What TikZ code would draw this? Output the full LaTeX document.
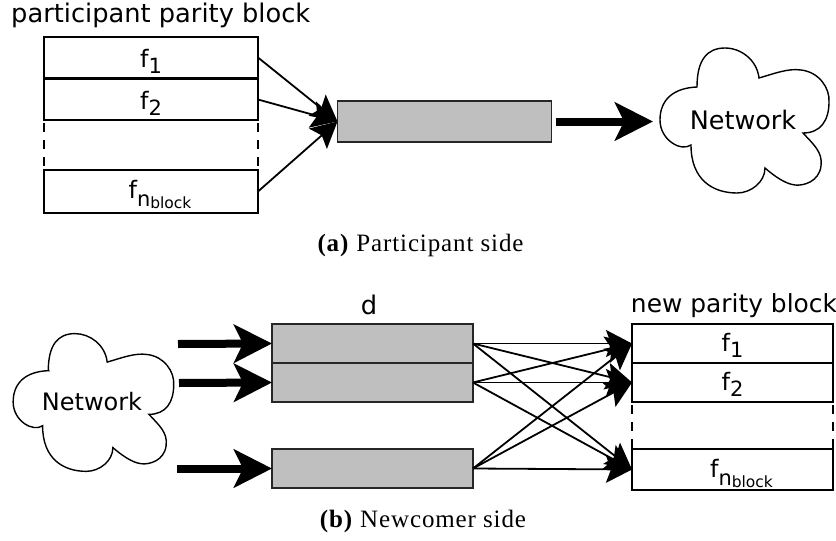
\documentclass[tikz,border=0pt]{standalone}
\usepackage{fontspec}
\setmainfont[LetterSpace=3.5]{Liberation Serif}
\newfontfamily\dejavu{DejaVu Sans}
\usetikzlibrary{arrows.meta}
\tikzstyle{bloc}   =[draw=black, line width=1.6pt, minimum width=214pt, inner sep=0pt, outer sep=0pt, text height=18pt, text depth=0pt, font=\dejavu\fontsize{24}{24}\selectfont]
\tikzstyle{blocgris}=[bloc, fill=black!25, draw=black!85]
\tikzstyle{titre}  =[inner sep=0pt, anchor=base west, font=\dejavu\fontsize{25.7}{25.7}\selectfont]
\tikzstyle{legende}=[inner sep=0pt, anchor=base, font=\fontsize{25}{25}\selectfont]
\tikzstyle{fin}    =[line width=1.8pt, -{Stealth[length=26pt,width=27pt,inset=5pt]}]
\tikzstyle{epais}  =[line width=8pt, line cap=butt, -{Stealth[length=38pt,width=38pt,inset=9pt]}]
\tikzstyle{tirets} =[line width=1.5pt, dash pattern=on 9pt off 8pt, dash phase=-3pt]
\newcommand{\fun}[1]{f\raisebox{-6pt}{\fontsize{21}{21}\selectfont #1}}
\newcommand{\fblock}{\hspace*{18pt}f\raisebox{-8pt}{\fontsize{21}{21}\selectfont n}\raisebox{-10pt}{\fontsize{15.5}{15.5}\selectfont block}}
\newcommand{\nuage}{(-46,-33) .. controls (-46,-60) and (-36,-72) .. (-18,-72) .. controls (-2,-72) and (14,-60) .. (16,-42) .. controls (30,-46) and (45,-52) .. (58,-50) .. controls (76,-48) and (87,-32) .. (86,-18) .. controls (86,0) and (78,13) .. (60,13) .. controls (70,24) and (80,32) .. (78,46) .. controls (76,62) and (60,66) .. (52,65) .. controls (42,64) and (30,55) .. (22,48) .. controls (22,62) and (8,73) .. (-6,73) .. controls (-30,73) and (-52,60) .. (-52,25) .. controls (-62,32) and (-83,20) .. (-83,0) .. controls (-83,-20) and (-70,-32) .. cycle}

\begin{document}
\begin{tikzpicture}[x=1pt,y=-1pt]

\useasboundingbox (0,0) rectangle (836,541);

%%%%%%%%%%%%%%%%%%%%%%%%
%Participant side
%%%%%%%%%%%%%%%%%%%%%%%%
\node [titre] (titrep) at (11,22.7) {participant parity block};

%the parity block
\node [bloc,minimum height=41pt,text height=19pt] (fa) at (151,57.5) {\fun{1}};
\node [bloc,minimum height=41pt,text height=19pt] (fb) at (151,99.5) {\fun{2}};
\node [bloc,minimum height=43pt,text height=13pt] (fc) at (151,191.5) {\fblock};
\draw [tirets] (fb.south west)--(fc.north west);
\draw [tirets] (fb.south east)--(fc.north east);

\node [blocgris,minimum height=41pt] (bloc) at (444.5,121.5) {};

\draw [fin] (fa.east)--(bloc.west);
\draw [fin] (fb.east)--(bloc.west);
\draw [fin] (fc.east)--(bloc.west);

%the cloud
\begin{scope}[xshift=743pt,yshift=-120pt]
\draw [line width=1.4pt] \nuage;
\node [inner sep=0pt,font=\dejavu\fontsize{25.5}{25.5}\selectfont] (reseaup) at (0,0) {Network};
\end{scope}

\coordinate (entree) at (653,121.5);
\draw [epais] ([xshift=4pt]bloc.east)--(entree);

\node [legende] (legendep) at (420.5,251) {\textbf{(a)} Participant side};

%%%%%%%%%%%%%%%%%%%%%%%%
%Newcomer side
%%%%%%%%%%%%%%%%%%%%%%%%
\node [titre,anchor=base] (titred) at (369,314) {d};
\node [titre,anchor=base,font=\dejavu\fontsize{24.9}{24.9}\selectfont] (titren) at (734,312.7) {new parity block};

%the cloud
\begin{scope}[xshift=92pt,yshift=-402pt,scale=0.95]
\draw [line width=1.4pt] \nuage;
\node [inner sep=0pt,font=\dejavu\fontsize{24}{24}\selectfont] (reseaun) at (0,0) {Network};
\end{scope}

%received data
\node [blocgris,minimum width=201pt,minimum height=39pt] (da) at (372.5,343.5) {};
\node [blocgris,minimum width=201pt,minimum height=39pt] (db) at (372.5,382.5) {};
\node [blocgris,minimum width=201pt,minimum height=39pt] (dc) at (372.5,468.5) {};

\coordinate (sortiea) at (178,344);
\coordinate (sortieb) at (179,383);
\coordinate (sortiec) at (177,468.5);
\draw [epais] (sortiea)--(da.west);
\draw [epais] (sortieb)--(db.west);
\draw [epais] (sortiec)--(dc.west);

%the new parity block
\node [bloc,minimum width=201pt,minimum height=39pt,text height=16pt] (na) at (732.5,343.5) {\fun{1}};
\node [bloc,minimum width=201pt,minimum height=39pt,text height=16pt] (nb) at (732.5,382.5) {\fun{2}};
\node [bloc,minimum width=201pt,minimum height=41pt,text height=15pt] (nc) at (732.5,469.5) {\fblock};
\draw [tirets] (nb.south west)--(nc.north west);
\draw [tirets] (nb.south east)--(nc.north east);

\draw [fin] (da.east)--(na.west);
\draw [fin] (da.east)--(nb.west);
\draw [fin] (da.east)--(nc.west);
\draw [fin] (db.east)--(na.west);
\draw [fin] (db.east)--(nb.west);
\draw [fin] (db.east)--(nc.west);
\draw [fin] (dc.east)--(na.west);
\draw [fin] (dc.east)--(nb.west);
\draw [fin] (dc.east)--(nc.west);

\node [legende] (legenden) at (423,527) {\textbf{(b)} Newcomer side};

\end{tikzpicture}
\end{document}
